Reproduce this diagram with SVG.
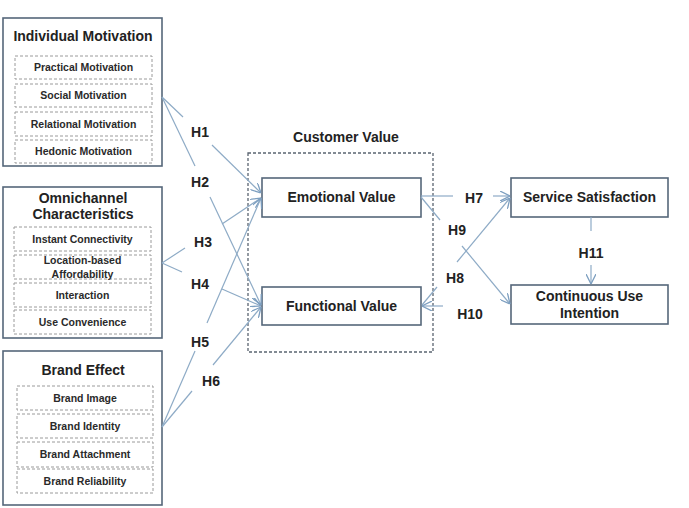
<svg xmlns="http://www.w3.org/2000/svg" width="689" height="508" viewBox="0 0 689 508">
<style>
  .outer { fill: #ffffff; stroke: #55677a; stroke-width: 1.6; }
  .inner { fill: #ffffff; stroke: #9a9a9a; stroke-width: 1; stroke-dasharray: 3 2; }
  .group { fill: none; stroke: #5a6470; stroke-width: 1.3; stroke-dasharray: 3 2; }
  .title { font-family: "Liberation Sans", Arial, sans-serif; font-weight: bold; font-size: 14px; fill: #222; text-anchor: middle; }
  .item { font-family: "Liberation Sans", Arial, sans-serif; font-weight: bold; font-size: 10.5px; fill: #2a2a2a; text-anchor: middle; }
  .box { font-family: "Liberation Sans", Arial, sans-serif; font-weight: bold; font-size: 14px; fill: #222; text-anchor: middle; }
  .lbl { font-family: "Liberation Sans", Arial, sans-serif; font-weight: bold; font-size: 14px; fill: #222; text-anchor: middle; }
  .ln { stroke: #8eabc6; stroke-width: 1.2; fill: none; }
</style>
<defs>
  <marker id="arr" viewBox="0 0 10 10" refX="10" refY="5" markerWidth="10" markerHeight="10" markerUnits="userSpaceOnUse" orient="auto">
    <path d="M0,0 L10,5 L0,10" fill="none" stroke="#7d9fc0" stroke-width="1.3"/>
  </marker>
</defs>
<rect width="689" height="508" fill="#ffffff"/>

<g id="individual-motivation">
  <rect class="outer" x="3" y="18" width="159" height="148"/>
  <text class="title" x="83" y="41">Individual Motivation</text>
  <rect class="inner" x="15" y="56" width="137" height="23"/>
  <text class="item" x="83.5" y="71">Practical Motivation</text>
  <rect class="inner" x="15" y="84" width="137" height="23"/>
  <text class="item" x="83.5" y="99">Social Motivation</text>
  <rect class="inner" x="15" y="112" width="137" height="24"/>
  <text class="item" x="83.5" y="128">Relational Motivation</text>
  <rect class="inner" x="15" y="140" width="137" height="23"/>
  <text class="item" x="83.5" y="155">Hedonic Motivation</text>
</g>

<g id="omnichannel-characteristics">
  <rect class="outer" x="3" y="187" width="159" height="151"/>
  <text class="title" x="83" y="203">Omnichannel</text>
  <text class="title" x="83" y="219">Characteristics</text>
  <rect class="inner" x="14" y="227" width="137" height="24"/>
  <text class="item" x="82.5" y="243">Instant Connectivity</text>
  <rect class="inner" x="14" y="255" width="137" height="24"/>
  <text class="item" x="82.5" y="264">Location-based</text>
  <text class="item" x="82.5" y="278">Affordability</text>
  <rect class="inner" x="14" y="283" width="137" height="24"/>
  <text class="item" x="82.5" y="299">Interaction</text>
  <rect class="inner" x="14" y="310" width="137" height="24"/>
  <text class="item" x="82.5" y="326">Use Convenience</text>
</g>

<g id="brand-effect">
  <rect class="outer" x="3" y="351" width="159" height="154"/>
  <text class="title" x="83" y="375">Brand Effect</text>
  <rect class="inner" x="17" y="386" width="136" height="24"/>
  <text class="item" x="85" y="402">Brand Image</text>
  <rect class="inner" x="17" y="414" width="136" height="24"/>
  <text class="item" x="85" y="430">Brand Identity</text>
  <rect class="inner" x="17" y="442" width="136" height="25"/>
  <text class="item" x="85" y="458">Brand Attachment</text>
  <rect class="inner" x="17" y="469" width="136" height="24"/>
  <text class="item" x="85" y="485">Brand Reliability</text>
</g>

<g id="customer-value">
  <rect class="group" x="248" y="153" width="185" height="199"/>
  <text class="title" x="346" y="142">Customer Value</text>
</g>

<g id="emotional-value">
  <rect class="outer" x="262" y="178" width="159" height="39"/>
  <text class="box" x="341.5" y="202">Emotional Value</text>
</g>

<g id="functional-value">
  <rect class="outer" x="262" y="287" width="159" height="38"/>
  <text class="box" x="341.5" y="311">Functional Value</text>
</g>

<g id="service-satisfaction">
  <rect class="outer" x="511" y="178" width="157" height="39"/>
  <text class="box" x="589.5" y="202">Service Satisfaction</text>
</g>

<g id="continuous-use-intention">
  <rect class="outer" x="511" y="285" width="157" height="39"/>
  <text class="box" x="589.5" y="301">Continuous Use</text>
  <text class="box" x="589.5" y="318">Intention</text>
</g>

<g id="connectors">
  <!-- H1 -->
  <line class="ln" x1="162" y1="97" x2="183" y2="117"/>
  <line class="ln" x1="212" y1="145" x2="261" y2="193" marker-end="url(#arr)"/>
  <text class="lbl" x="200" y="137">H1</text>
  <!-- H2 -->
  <line class="ln" x1="162" y1="97" x2="195" y2="166"/>
  <line class="ln" x1="210" y1="197" x2="261" y2="305" marker-end="url(#arr)"/>
  <text class="lbl" x="200" y="187">H2</text>
  <!-- H3 -->
  <line class="ln" x1="162" y1="263" x2="185" y2="248"/>
  <line class="ln" x1="222" y1="224" x2="261" y2="198" marker-end="url(#arr)"/>
  <text class="lbl" x="203" y="247">H3</text>
  <!-- H4 -->
  <line class="ln" x1="162" y1="263" x2="182" y2="272"/>
  <line class="ln" x1="222" y1="289" x2="261" y2="306" marker-end="url(#arr)"/>
  <text class="lbl" x="200" y="289">H4</text>
  <!-- H5 -->
  <line class="ln" x1="162" y1="427" x2="195" y2="351"/>
  <line class="ln" x1="207" y1="323" x2="261" y2="198" marker-end="url(#arr)"/>
  <text class="lbl" x="200" y="347">H5</text>
  <!-- H6 -->
  <line class="ln" x1="162" y1="427" x2="192" y2="391"/>
  <line class="ln" x1="213" y1="365" x2="261" y2="307" marker-end="url(#arr)"/>
  <text class="lbl" x="211" y="386">H6</text>
  <!-- H7 -->
  <line class="ln" x1="421" y1="196" x2="453" y2="196"/>
  <line class="ln" x1="493" y1="196" x2="510" y2="196" marker-end="url(#arr)"/>
  <text class="lbl" x="474" y="203">H7</text>
  <!-- H9 -->
  <line class="ln" x1="421" y1="197" x2="440" y2="220"/>
  <line class="ln" x1="462" y1="246" x2="510" y2="304" marker-end="url(#arr)"/>
  <text class="lbl" x="457" y="235">H9</text>
  <!-- H8 -->
  <line class="ln" x1="422" y1="305" x2="437" y2="287"/>
  <line class="ln" x1="457" y1="262" x2="510" y2="198" marker-end="url(#arr)"/>
  <text class="lbl" x="455" y="283">H8</text>
  <!-- H10 -->
  <line class="ln" x1="443" y1="306" x2="422" y2="306" marker-end="url(#arr)"/>
  <text class="lbl" x="470" y="319">H10</text>
  <!-- H11 -->
  <line class="ln" x1="591" y1="217" x2="591" y2="231"/>
  <line class="ln" x1="591" y1="265" x2="591" y2="284" marker-end="url(#arr)"/>
  <text class="lbl" x="591" y="258">H11</text>
</g>
</svg>
